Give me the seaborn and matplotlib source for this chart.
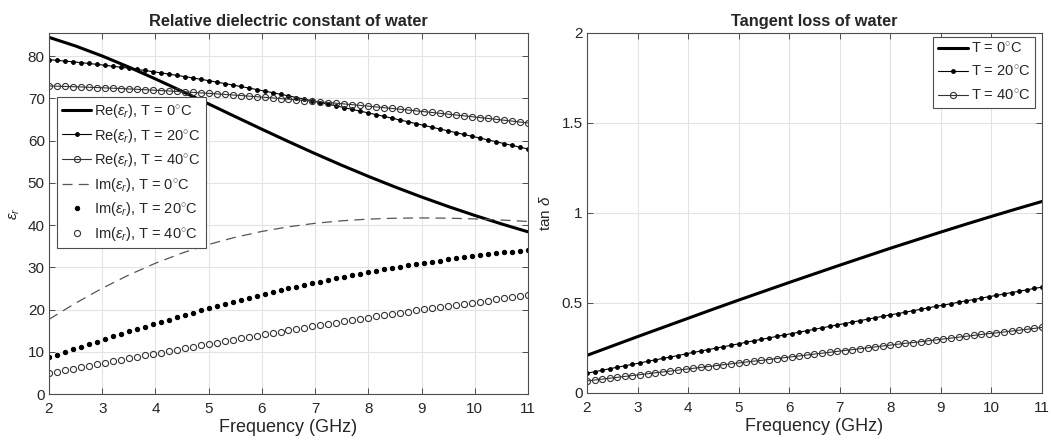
import numpy as np
import pandas as pd
import matplotlib
matplotlib.use("Agg")
import matplotlib.pyplot as plt
import seaborn as sns

# sample frequencies (GHz) of the marked curves
freq = [2.00, 2.15, 2.30, 2.45, 2.60, 2.75, 2.90, 3.05, 3.20, 3.35,
        3.50, 3.65, 3.80, 3.95, 4.10, 4.25, 4.40, 4.55, 4.70, 4.85,
        5.00, 5.15, 5.30, 5.45, 5.60, 5.75, 5.90, 6.05, 6.20, 6.35,
        6.50, 6.65, 6.80, 6.95, 7.10, 7.25, 7.40, 7.55, 7.70, 7.85,
        8.00, 8.15, 8.30, 8.45, 8.60, 8.75, 8.90, 9.05, 9.20, 9.35,
        9.50, 9.65, 9.80, 9.95, 10.10, 10.25, 10.40, 10.55, 10.70, 10.85, 11.00]

# T = 20 C
re20 = [79.17, 79.02, 78.85, 78.67, 78.48, 78.28, 78.07, 77.85, 77.62, 77.39,
        77.14, 76.88, 76.62, 76.34, 76.06, 75.77, 75.47, 75.17, 74.86, 74.54,
        74.21, 73.87, 73.53, 73.19, 72.83, 72.48, 72.11, 71.74, 71.37, 70.99,
        70.61, 70.22, 69.83, 69.43, 69.03, 68.63, 68.22, 67.81, 67.40, 66.98,
        66.57, 66.15, 65.73, 65.31, 64.88, 64.46, 64.03, 63.60, 63.17, 62.74,
        62.32, 61.89, 61.46, 61.03, 60.60, 60.17, 59.74, 59.31, 58.88, 58.46, 58.03]
im20 = [8.70, 9.34, 9.96, 10.59, 11.21, 11.82, 12.43, 13.03, 13.63, 14.22,
        14.81, 15.39, 15.96, 16.53, 17.09, 17.64, 18.19, 18.72, 19.25, 19.78,
        20.29, 20.80, 21.30, 21.79, 22.27, 22.75, 23.21, 23.67, 24.12, 24.56,
        25.00, 25.42, 25.84, 26.24, 26.64, 27.03, 27.41, 27.79, 28.15, 28.51,
        28.86, 29.19, 29.53, 29.85, 30.16, 30.47, 30.77, 31.06, 31.34, 31.61,
        31.88, 32.14, 32.39, 32.63, 32.87, 33.10, 33.32, 33.53, 33.74, 33.94, 34.13]
tan20 = [0.110, 0.118, 0.126, 0.135, 0.143, 0.151, 0.159, 0.167, 0.176, 0.184,
         0.192, 0.200, 0.208, 0.217, 0.225, 0.233, 0.241, 0.249, 0.257, 0.265,
         0.273, 0.282, 0.290, 0.298, 0.306, 0.314, 0.322, 0.330, 0.338, 0.346,
         0.354, 0.362, 0.370, 0.378, 0.386, 0.394, 0.402, 0.410, 0.418, 0.426,
         0.434, 0.441, 0.449, 0.457, 0.465, 0.473, 0.481, 0.488, 0.496, 0.504,
         0.512, 0.519, 0.527, 0.535, 0.542, 0.550, 0.558, 0.565, 0.573, 0.581, 0.588]

# T = 40 C
re40 = [72.96, 72.90, 72.84, 72.78, 72.72, 72.65, 72.58, 72.50, 72.42, 72.34,
        72.25, 72.16, 72.07, 71.97, 71.87, 71.77, 71.66, 71.55, 71.44, 71.32,
        71.20, 71.08, 70.95, 70.82, 70.69, 70.55, 70.41, 70.27, 70.12, 69.97,
        69.82, 69.67, 69.51, 69.35, 69.19, 69.03, 68.86, 68.69, 68.52, 68.34,
        68.17, 67.99, 67.80, 67.62, 67.44, 67.25, 67.06, 66.86, 66.67, 66.47,
        66.27, 66.07, 65.87, 65.67, 65.46, 65.26, 65.05, 64.84, 64.63, 64.41, 64.20]
im40 = [4.87, 5.23, 5.59, 5.95, 6.31, 6.66, 7.02, 7.37, 7.73, 8.08,
        8.43, 8.78, 9.13, 9.47, 9.82, 10.16, 10.50, 10.85, 11.18, 11.52,
        11.86, 12.19, 12.52, 12.85, 13.18, 13.50, 13.82, 14.15, 14.46, 14.78,
        15.09, 15.41, 15.72, 16.02, 16.33, 16.63, 16.93, 17.23, 17.53, 17.82,
        18.11, 18.40, 18.68, 18.96, 19.24, 19.52, 19.80, 20.07, 20.34, 20.60,
        20.87, 21.13, 21.39, 21.64, 21.89, 22.14, 22.39, 22.64, 22.88, 23.12, 23.35]
tan40 = [0.067, 0.072, 0.077, 0.082, 0.087, 0.092, 0.097, 0.102, 0.107, 0.112,
         0.117, 0.122, 0.127, 0.132, 0.137, 0.142, 0.147, 0.152, 0.157, 0.162,
         0.167, 0.172, 0.177, 0.181, 0.186, 0.191, 0.196, 0.201, 0.206, 0.211,
         0.216, 0.221, 0.226, 0.231, 0.236, 0.241, 0.246, 0.251, 0.256, 0.261,
         0.266, 0.271, 0.276, 0.280, 0.285, 0.290, 0.295, 0.300, 0.305, 0.310,
         0.315, 0.320, 0.325, 0.330, 0.334, 0.339, 0.344, 0.349, 0.354, 0.359, 0.364]

# T = 0 C (plain lines, coarser sampling)
freq0 = [2.0, 2.5, 3.0, 3.5, 4.0, 4.5, 5.0, 5.5, 6.0, 6.5,
         7.0, 7.5, 8.0, 8.5, 9.0, 9.5, 10.0, 10.5, 11.0]
re0 = [84.47, 82.42, 80.05, 77.43, 74.62, 71.70, 68.70, 65.69, 62.71, 59.78,
       56.93, 54.18, 51.55, 49.04, 46.66, 44.41, 42.29, 40.29, 38.41]
im0 = [17.68, 21.52, 25.04, 28.19, 30.97, 33.38, 35.42, 37.12, 38.50, 39.60,
       40.43, 41.02, 41.42, 41.63, 41.70, 41.64, 41.47, 41.20, 40.87]
tan0 = [0.209, 0.261, 0.313, 0.364, 0.415, 0.466, 0.516, 0.565, 0.614, 0.662,
        0.710, 0.757, 0.804, 0.849, 0.894, 0.938, 0.981, 1.023, 1.064]

df = pd.DataFrame({"f": freq, "re20": re20, "im20": im20, "tan20": tan20,
                   "re40": re40, "im40": im40, "tan40": tan40})
df0 = pd.DataFrame({"f": freq0, "re0": re0, "im0": im0, "tan0": tan0})

sns.set_theme(style="whitegrid")
plt.rcParams["font.family"] = ["Liberation Sans", "DejaVu Sans"]
plt.rcParams["mathtext.fontset"] = "custom"
plt.rcParams["mathtext.rm"] = "Liberation Sans"
plt.rcParams["mathtext.it"] = "Liberation Sans:italic"

fig = plt.figure(figsize=(10.51, 4.44), dpi=100)
ax1 = fig.add_axes([0.0466, 0.1126, 0.4558, 0.8131])
ax2 = fig.add_axes([0.5585, 0.1149, 0.4329, 0.8108])

spine_c = "#4d4d4d"
dot = dict(marker="o", markersize=2.7, markerfacecolor="black", markeredgecolor="black")
ring = dict(marker="o", markersize=4.4, markerfacecolor="none", markeredgecolor="#333333",
            markeredgewidth=0.8)

# left: relative dielectric constant
sns.lineplot(data=df0, x="f", y="re0", ax=ax1, color="black", linewidth=2.2,
             label=r"Re($\epsilon_r$), T = 0$^{\circ}$C")
sns.lineplot(data=df, x="f", y="re20", ax=ax1, color="black", linewidth=0.8, **dot,
             label=r"Re($\epsilon_r$), T = 20$^{\circ}$C")
sns.lineplot(data=df, x="f", y="re40", ax=ax1, color="#333333", linewidth=0.8, **ring,
             label=r"Re($\epsilon_r$), T = 40$^{\circ}$C")
sns.lineplot(data=df0, x="f", y="im0", ax=ax1, color="#555555", linewidth=0.9,
             dashes=False, linestyle=(0, (8, 5)),
             label=r"Im($\epsilon_r$), T = 0$^{\circ}$C")
sns.lineplot(data=df, x="f", y="im20", ax=ax1, linestyle="none", marker="o",
             markersize=3.1, markerfacecolor="black", markeredgecolor="black",
             label=r"Im($\epsilon_r$), T = 20$^{\circ}$C")
sns.lineplot(data=df, x="f", y="im40", ax=ax1, linestyle="none", **ring,
             label=r"Im($\epsilon_r$), T = 40$^{\circ}$C")

# right: tangent loss
sns.lineplot(data=df0, x="f", y="tan0", ax=ax2, color="black", linewidth=2.2,
             label=r"T = 0$^{\circ}$C")
sns.lineplot(data=df, x="f", y="tan20", ax=ax2, color="black", linewidth=0.8, **dot,
             label=r"T = 20$^{\circ}$C")
sns.lineplot(data=df, x="f", y="tan40", ax=ax2, color="#333333", linewidth=0.8, **ring,
             label=r"T = 40$^{\circ}$C")

for ax in (ax1, ax2):
    ax.set_xlim(2, 11)
    ax.set_xticks(range(2, 12))
    ax.set_xlabel("Frequency (GHz)", fontsize=13, labelpad=2)
    ax.grid(True, color="#e3e3e3", linewidth=0.8)
    ax.tick_params(direction="in", length=4, width=0.7, color=spine_c,
                   labelsize=11, pad=3, top=True, right=True,
                   bottom=True, left=True)
    ax.tick_params(axis="x", pad=6)
    for s in ax.spines.values():
        s.set_color(spine_c)
        s.set_linewidth(0.8)
    ax.set_facecolor("white")

ax1.set_ylim(0, 85.5)
ax1.set_yticks(range(0, 81, 10))
ax1.set_ylabel(r"$\epsilon_r$", fontsize=11, labelpad=4)
ax1.set_title("Relative dielectric constant of water", fontsize=11.8,
              fontweight="bold", pad=5)

ax2.set_ylim(0, 2)
ax2.set_yticks([0, 0.5, 1, 1.5, 2])
ax2.set_yticklabels(["0", "0.5", "1", "1.5", "2"])
ax2.set_ylabel(r"tan $\delta$", fontsize=11, labelpad=6)
ax2.set_title("Tangent loss of water", fontsize=11.8, fontweight="bold", pad=5)

leg_kw = dict(fancybox=False, framealpha=1, edgecolor=spine_c, fontsize=10.5,
              borderaxespad=0, handlelength=2.0, handletextpad=0.2, borderpad=0.35)
l1 = ax1.legend(loc="upper left", bbox_to_anchor=(0.017, 0.823), labelspacing=0.45,
                **leg_kw)
l2 = ax2.legend(loc="upper right", bbox_to_anchor=(0.985, 0.99), labelspacing=0.6,
                **leg_kw)
for l in (l1, l2):
    l.get_frame().set_linewidth(0.8)

fig.savefig("out.png", dpi=100)
